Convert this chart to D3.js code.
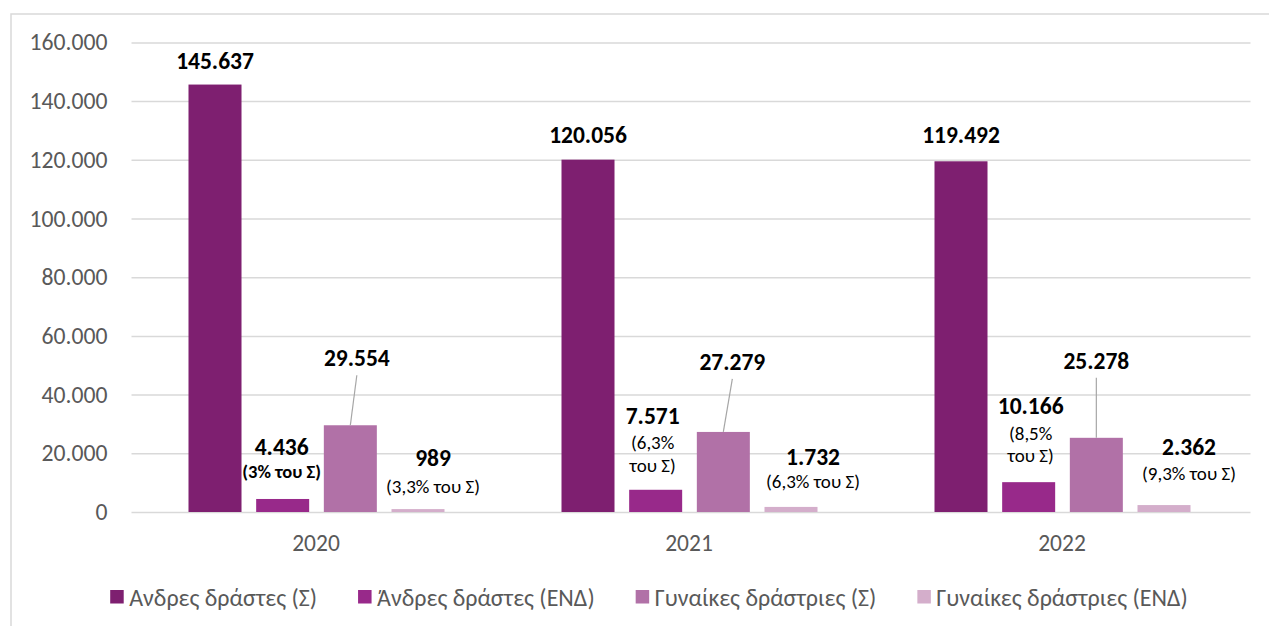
<!DOCTYPE html>
<html><head><meta charset="utf-8">
<script src="https://cdn.jsdelivr.net/npm/d3@7"></script>
<style>
html,body{margin:0;padding:0;background:#fff;}
svg{display:block;font-family:Carlito,Lato,"Open Sans",sans-serif;}
</style></head>
<body>
<svg id="chart" width="1269" height="626"></svg>
<script>
const years = ["2020", "2021", "2022"];
const seriesNames = ["Ανδρες δράστες (Σ)", "Άνδρες δράστες (ΕΝΔ)", "Γυναίκες δράστριες (Σ)", "Γυναίκες δράστριες (ΕΝΔ)"];
const seriesColors = ["#7e1f70", "#98298a", "#b171a7", "#d4aecb"];
const menTotal = [145637, 120056, 119492];
const menEnd = [4436, 7571, 10166];
const womenTotal = [29554, 27279, 25278];
const womenEnd = [989, 1732, 2362];
const menEndShare = ["(3% του Σ)", "(6,3%|του Σ)", "(8,5%|του Σ)"];
const womenEndShare = ["(3,3% του Σ)", "(6,3% του Σ)", "(9,3% του Σ)"];
const yTicks = [0, 20000, 40000, 60000, 80000, 100000, 120000, 140000, 160000];

const fmt = v => d3.format(",")(v).replace(/,/g, ".");
const seriesValues = [menTotal, menEnd, womenTotal, womenEnd];
const FONT = "Carlito,Lato,'Open Sans',sans-serif";

const svg = d3.select("#chart");
const plot = {left: 131.5, right: 1250.5, top: 42.4, bottom: 512};

// frame (only top/left visible)
svg.append("rect").attr("x", 11).attr("y", 14).attr("width", 1300).attr("height", 700)
  .attr("fill", "none").attr("stroke", "#d9d9d9").attr("stroke-width", 1.5);

const y = d3.scaleLinear().domain([0, 160000]).range([plot.bottom, plot.top]);
const x0 = d3.scaleBand().domain(years).range([plot.left, plot.right]).padding(0);
const x1 = d3.scaleBand().domain(d3.range(4)).range([57, x0.bandwidth() - 60]).paddingInner(0.2167).paddingOuter(0);

// gridlines + y axis
const yAxis = d3.axisLeft(y).tickValues(yTicks).tickSize(-(plot.right - plot.left)).tickFormat(fmt).tickPadding(24);
const ga = svg.append("g").attr("transform", `translate(${plot.left},0)`).call(yAxis);
ga.select(".domain").remove();
ga.selectAll(".tick line").attr("stroke", "#d9d9d9").attr("stroke-width", 1.5);
ga.selectAll(".tick text").attr("fill", "#595959").attr("font-size", 23.7).style("font-family", FONT);

// x axis labels
const xAxis = d3.axisBottom(x0).tickSize(0).tickPadding(0);
const gx = svg.append("g").attr("transform", `translate(0,${plot.bottom})`).call(xAxis);
gx.select(".domain").remove();
gx.selectAll(".tick text").attr("fill", "#595959").attr("font-size", 23.5).style("font-family", FONT)
  .attr("y", 31).attr("dy", "0.33em").attr("dx", -2);

// bars
const bars = [];
years.forEach((yr, i) => {
  seriesValues.forEach((arr, s) => {
    bars.push({yr, i, s, v: arr[i], cx: x0(yr) + x1(s) + x1.bandwidth() / 2});
  });
});
svg.append("g").selectAll("rect").data(bars).join("rect")
  .attr("x", d => x0(d.yr) + x1(d.s))
  .attr("y", d => y(d.v))
  .attr("width", x1.bandwidth())
  .attr("height", d => y(0) - y(d.v))
  .attr("fill", d => seriesColors[d.s]);

// label offsets (dx, dy relative to bar center / top) per series per year
const labelOffsets = [
  [[0, -24], [0, -25], [0, -26]],
  [[-1, -52], [-3, -74], [2, -76]],
  [[6.5, -67], [9, -70], [0, -77]],
  [[15, -51], [22, -50], [25, -58]]
];
const subOffsets = [
  [26, 26, 26],
  [25, 27, 27],
  [0, 0, 0],
  [28, 25, 26]
];
const lab = svg.append("g");
bars.forEach(d => {
  const [dx, dy] = labelOffsets[d.s][d.i];
  const lx = d.cx + dx, ly = y(d.v) + dy;
  lab.append("text").attr("x", lx).attr("y", ly).attr("text-anchor", "middle")
    .attr("dominant-baseline", "central").attr("font-size", 23.5).attr("font-weight", "bold")
    .attr("fill", "#000").text(fmt(d.v));
  if (d.s === 2) {
    lab.append("line").attr("x1", lx).attr("y1", ly + 17).attr("x2", d.cx).attr("y2", y(d.v))
      .attr("stroke", "#a6a6a6").attr("stroke-width", 1.2);
  }
  if (d.s === 1) {
    const lines = menEndShare[d.i].split("|");
    lines.forEach((t, k) => {
      lab.append("text").attr("x", lx).attr("y", ly + subOffsets[d.s][d.i] + k * 22.5).attr("text-anchor", "middle")
        .attr("dominant-baseline", "central").attr("font-size", lines.length === 1 ? 18.5 : 19)
        .attr("font-weight", lines.length === 1 ? "bold" : "normal")
        .attr("fill", "#000").text(t);
    });
  }
  if (d.s === 3) {
    lab.append("text").attr("x", lx).attr("y", ly + subOffsets[d.s][d.i]).attr("text-anchor", "middle")
      .attr("dominant-baseline", "central").attr("font-size", 19)
      .attr("fill", "#000").text(womenEndShare[d.i]);
  }
});

// legend
const leg = svg.append("g");
const items = seriesNames.map((n, s) => ({n, s}));
const gItems = leg.selectAll("g").data(items).join("g");
gItems.append("rect").attr("width", 13.5).attr("height", 13.5).attr("y", -7).attr("fill", d => seriesColors[d.s]);
gItems.append("text").attr("x", 19).attr("dominant-baseline", "central").attr("font-size", 24)
  .attr("fill", "#595959").text(d => d.n);
const widths = [];
gItems.each(function() { widths.push(19 + this.querySelector("text").getComputedTextLength()); });
const spacing = 41;
const total = d3.sum(widths) + spacing * (widths.length - 1);
let start = 649 - total / 2;
gItems.attr("transform", (d, k) => {
  const t = `translate(${start},597)`;
  start += widths[k] + spacing;
  return t;
});
</script>
</body></html>
